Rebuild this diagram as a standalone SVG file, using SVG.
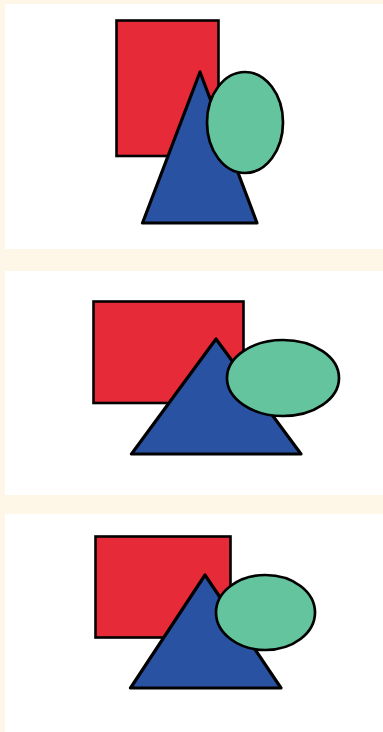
<svg xmlns="http://www.w3.org/2000/svg" width="383" height="732" viewBox="0 0 383 732">
<style>
.bg{fill:#FEF7E8}
.panel{fill:#FFFFFF}
.rect{fill:#E62A38;stroke:#000;stroke-width:2.6}
.tri{fill:#2A52A2;stroke:#000;stroke-width:3.2;stroke-linejoin:round}
.ell{fill:#64C49E;stroke:#000;stroke-width:2.7}
</style>
<rect class="bg" x="0" y="0" width="383" height="732"/>
<g id="panel1">
<rect class="panel" x="5" y="4" width="378" height="245"/>
<rect class="rect" x="116.5" y="20.5" width="102" height="135.5"/>
<polygon class="tri" points="200,72 142.5,223 257,223"/>
<ellipse class="ell" cx="245" cy="122.5" rx="38" ry="50.5"/>
</g>
<g id="panel2">
<rect class="panel" x="5" y="271" width="378" height="224"/>
<rect class="rect" x="93.5" y="301.5" width="150" height="101.5"/>
<polygon class="tri" points="216,339 131.5,454 301,454"/>
<ellipse class="ell" cx="283" cy="378" rx="56" ry="38"/>
</g>
<g id="panel3">
<rect class="panel" x="5" y="514" width="378" height="218"/>
<rect class="rect" x="95.5" y="536.5" width="135" height="101"/>
<polygon class="tri" points="205,575 130.5,688 281,688"/>
<ellipse class="ell" cx="265.5" cy="612.5" rx="49.5" ry="37.5"/>
</g>
</svg>
